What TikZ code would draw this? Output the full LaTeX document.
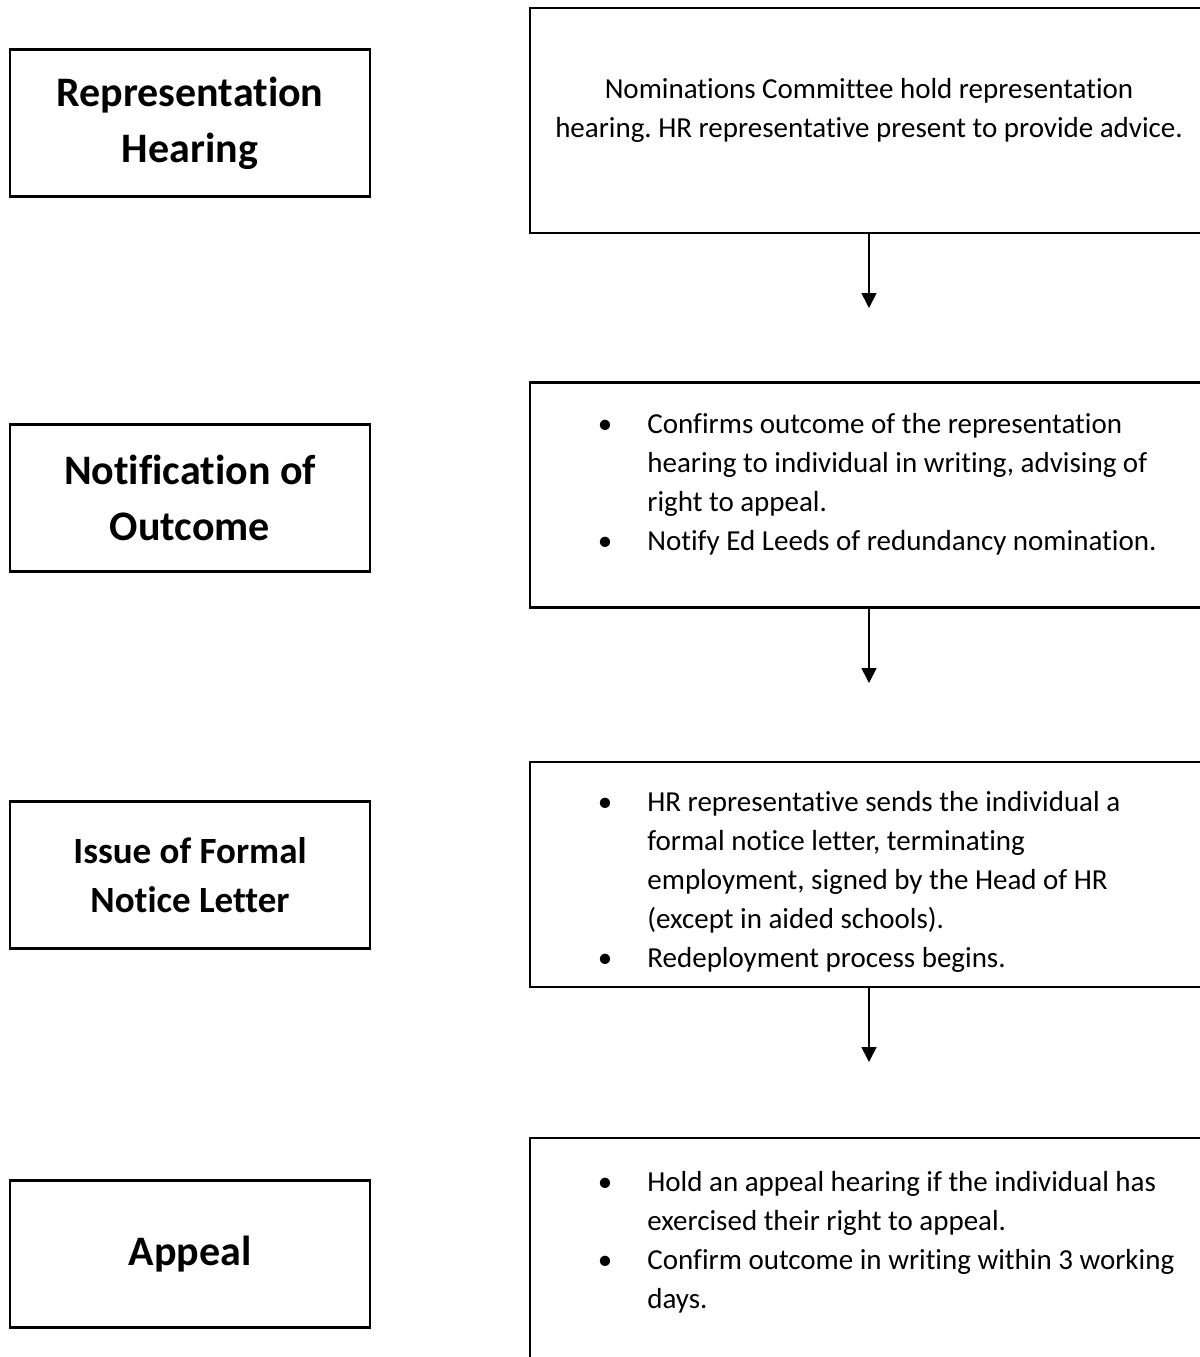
\documentclass[tikz,border=0pt]{standalone}
\usepackage{fontspec}
\setmainfont{Carlito}[Ligatures={NoCommon,NoContextual}]
\usetikzlibrary{arrows.meta}
\newcommand{\pointmark}{\llap{\textbullet\hspace{17.5pt}}}
\frenchspacing

\begin{document}
\begin{tikzpicture}[x=0.5pt, y=-0.5pt,
  stage/.style={draw, line width=1.3pt, minimum width=180pt, minimum height=73.5pt, inner sep=0pt, align=center, font=\fontsize{21}{28}\selectfont\bfseries},
  panel/.style={draw, line width=1.4pt, minimum width=339pt, minimum height=112.5pt, inner sep=0pt},
  body/.style={inner sep=0pt, font=\fontsize{14.5}{19.5}\selectfont},
  flow/.style={-{Triangle[width=7.5pt, length=7.5pt]}, line width=0.8pt}]
  \useasboundingbox (0,0) rectangle (1200,1357);
  \node[stage] (hearing) at (190,123) {Representation\\Hearing};
  \node[stage] (outcome) at (190,498) {Notification of\\Outcome};
  \node[stage, font=\fontsize{18.5}{24.5}\selectfont\bfseries] (notice) at (190,875) {Issue of Formal\\Notice Letter};
  \node[stage] (appeal) at (190,1254) {Appeal};
  \node[panel] (hearingbox) at (869,120.5) {};
  \node[panel] (outcomebox) at (869,495) {};
  \node[panel] (noticebox) at (869,874.5) {};
  \node[panel] (appealbox) at (869,1250.5) {};
  \node[body, align=center, anchor=north] (hearingtxt) at (869,78) {Nominations Committee hold representation\\hearing. HR representative present to provide advice.};
  \node[body, align=left, anchor=north west] (outcometxt) at (647,413) {\pointmark Confirms outcome of the representation\\hearing to individual in writing, advising of\\right to appeal.\\\pointmark Notify Ed Leeds of redundancy nomination.};
  \node[body, align=left, anchor=north west] (noticetxt) at (647,791) {\pointmark HR representative sends the individual a\\formal notice letter, terminating\\employment, signed by the Head of HR\\(except in aided schools).\\\pointmark Redeployment process begins.};
  \node[body, align=left, anchor=north west] (appealtxt) at (647,1171) {\pointmark Hold an appeal hearing if the individual has\\exercised their right to appeal.\\\pointmark Confirm outcome in writing within 3 working\\days.};
  \coordinate (tipA) at (869,308);
  \coordinate (tipB) at (869,683);
  \coordinate (tipC) at (869,1062);
  \draw[flow] (hearingbox.south) -- (tipA);
  \draw[flow] (outcomebox.south) -- (tipB);
  \draw[flow] (noticebox.south) -- (tipC);
\end{tikzpicture}
\end{document}
